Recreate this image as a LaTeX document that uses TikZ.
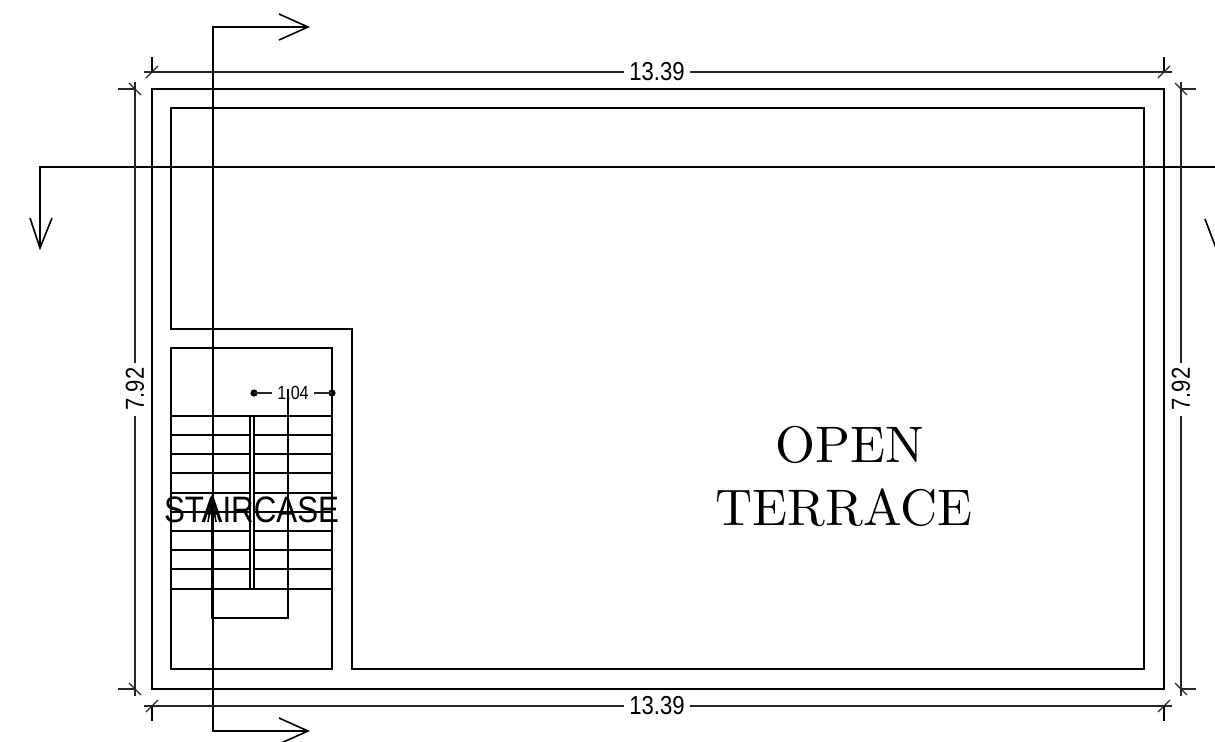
\documentclass[tikz,border=0pt]{standalone}
\usepackage{fontspec}
\newfontfamily\dimfont[FakeStretch=0.85]{Liberation Sans}
\tikzset{
  wallline/.style={line width=1.25pt},
  innerline/.style={line width=0.9pt},
  sectionline/.style={line width=0.8pt},
  dimline/.style={line width=0.6pt,black!85},
  dimtext/.style={fill=white,inner sep=2.5pt,font=\dimfont\fontsize{13}{13}\selectfont},
  roomtext/.style={scale=2.57,inner sep=0pt,font=\normalsize},
}
\begin{document}
\begin{tikzpicture}[x=0.5pt,y=-0.5pt]
  \useasboundingbox (0,0) rectangle (1215,741);
  \clip (0,0) rectangle (1215,741);

  % walls
  \draw[wallline] (152,89) rectangle (1164,689);
  \draw[innerline] (171,108) -- (1144,108) -- (1144,669) -- (352,669) -- (352,329) -- (171,329) -- cycle;
  \draw[innerline] (171,348) rectangle (332,669);

  % stairs
  \draw[innerline] (171,416) -- (332,416);
  \draw[innerline] (171,589) -- (332,589);
  \foreach \y in {435,454,473,493,512,531,550,569} { % treads
    \draw[sectionline] (171,\y) -- (250,\y);
    \draw[sectionline] (254,\y) -- (332,\y);
  }
  \draw[innerline] (250,416) -- (250,589);
  \draw[innerline] (254,416) -- (254,589);

  % width of the flight
  \fill (254,393) circle (3.6);
  \fill (332,393) circle (3.6);
  \draw[dimline] (254,393) -- (332,393);
  \node[dimtext,font=\dimfont\fontsize{9.5}{9.5}\selectfont] (flight) at (293,393) {1.04};

  % walking line
  \draw[sectionline] (212,498) -- (212,618) -- (288,618) -- (288,389);
  \draw[sectionline] (204,522) -- (212,498) -- (220,522);
  \draw[sectionline] (208,522) -- (212,498) -- (216,522);

  % section lines
  \draw[sectionline] (308,27) -- (213,27) -- (213,731) -- (308,731);
  \draw[sectionline] (279,14) -- (308,27) -- (279,40);
  \draw[sectionline] (279,718) -- (308,731) -- (279,744);
  \draw[sectionline] (40,248) -- (40,167) -- (1216,167) -- (1216,248);
  \draw[sectionline] (30,218) -- (40,248) -- (52,218);
  \draw[sectionline] (1205,219) -- (1216,248);

  % dimensions
  \foreach \y/\a/\b/\n in {72/57/72/dimtop,706/706/721/dimbottom} {
    \draw[dimline] (144,\y) -- (1172,\y);
    \node[dimtext] (\n) at (657,\y) {13.39};
    \foreach \x in {152,1164} {
      \draw[innerline] (\x,\a) -- (\x,\b);
      \draw[dimline] (\x-6,\y+6) -- (\x+6,\y-6);
    }
  }
  \foreach \x/\a/\b/\n in {135/118/135/dimleft,1181/1181/1196/dimright} {
    \draw[dimline] (\x,82) -- (\x,696);
    \node[dimtext,rotate=90] (\n) at (\x,389) {7.92};
    \foreach \y in {89,689} {
      \draw[dimline] (\a,\y) -- (\b,\y);
      \draw[dimline] (\x-6,\y-6) -- (\x+6,\y+6);
    }
  }

  % room names
  \node[font=\dimfont\fontsize{18.4}{18.4}\selectfont,inner sep=0pt] (staircase) at (251.5,509.5) {STAIRCASE};
  \node[roomtext] (open) at (850,445) {OPEN};
  \node[roomtext] (terrace) at (844,508) {TERRACE};
\end{tikzpicture}
\end{document}
